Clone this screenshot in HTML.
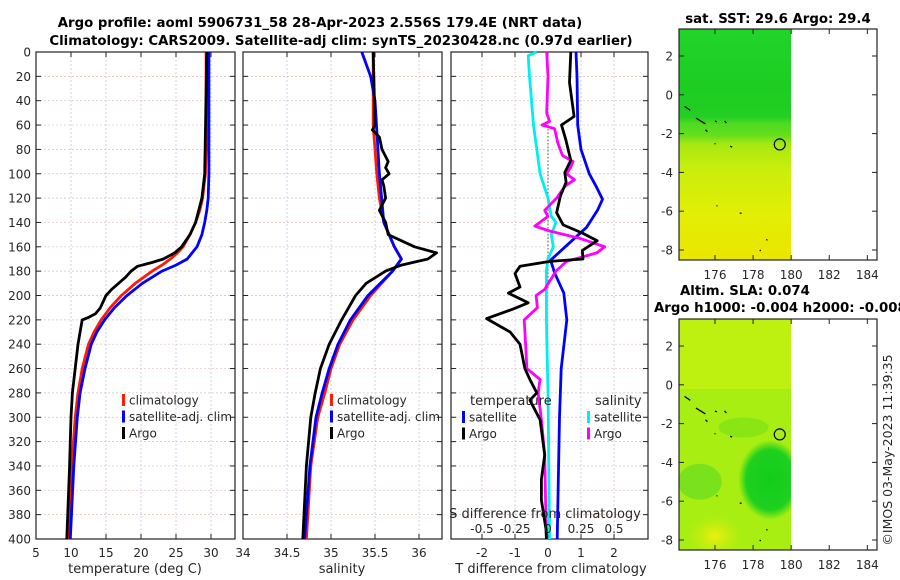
<!DOCTYPE html>
<html><head><meta charset="utf-8"><style>
body{margin:0;background:#fff;}
svg{display:block;font-family:"DejaVu Sans","Liberation Sans",sans-serif;}
</style></head><body>
<svg id="c" width="900" height="580" viewBox="0 0 900 580">
<defs>
<linearGradient id="sst" x1="0" y1="0" x2="0" y2="1">
<stop offset="0" stop-color="#22d42a"/><stop offset="0.25" stop-color="#1ccd22"/><stop offset="0.38" stop-color="#22cf22"/><stop offset="0.41" stop-color="#4fda22"/><stop offset="0.46" stop-color="#66de1c"/><stop offset="0.5" stop-color="#a8e812"/><stop offset="0.6" stop-color="#c8ee0c"/><stop offset="0.8" stop-color="#e2ee06"/><stop offset="1" stop-color="#eae600"/>
</linearGradient>
<radialGradient id="sla1" cx="0.5" cy="0.5" r="0.5"><stop offset="0" stop-color="#12cc1a"/><stop offset="0.75" stop-color="#1fd01f"/><stop offset="1" stop-color="#1fd01f" stop-opacity="0"/></radialGradient>
<radialGradient id="sla2" cx="0.5" cy="0.5" r="0.5"><stop offset="0" stop-color="#f0ee10"/><stop offset="1" stop-color="#c8f010" stop-opacity="0"/></radialGradient>
<clipPath id="m2"><rect x="679" y="319" width="112" height="231"/></clipPath>
</defs>
<g id="titles" font-weight="bold" font-size="13.3" text-anchor="middle" fill="#000">
<text x="320" y="27">Argo profile: aoml 5906731_58 28-Apr-2023 2.556S 179.4E (NRT data)</text>
<text x="341" y="45">Climatology: CARS2009. Satellite-adj clim: synTS_20230428.nc (0.97d earlier)</text>
<text x="778" y="23">sat. SST: 29.6 Argo: 29.4</text>
<text x="680" y="295" text-anchor="start">Altim. SLA: 0.074</text>
<text x="654" y="312" text-anchor="start">Argo h1000: -0.004 h2000: -0.008</text>
</g>
<g id="plots"></g>
</svg>
<script>
// ---- data ----
const depthTicks=[0,20,40,60,80,100,120,140,160,180,200,220,240,260,280,300,320,340,360,380,400];
const tTicks=[5,10,15,20,25,30];
const sTicks=[34,34.5,35,35.5,36];
const dTTicks=[-2,-1,0,1,2];
const dSTickLabels=["-0.5","-0.25","0","0.25","0.5"];
const dSTicks=[-0.5,-0.25,0,0.25,0.5];

const climTDepth=[0,80,100,110,120,130,140,150,160,165,170,175,180,190,200,210,220,230,240,260,280,300,340,400];
const climT=[29.3,29.3,29.2,29.0,28.8,28.4,27.8,27.0,26.0,25.2,24.2,23.0,21.6,19.2,17.2,15.6,14.3,13.3,12.5,11.6,11.0,10.6,10.1,9.6];
const satTDepth=[0,100,120,130,140,150,160,170,175,180,190,200,210,220,230,240,260,280,300,340,400];
const satT=[29.7,29.7,29.6,29.4,29.1,28.7,28.0,26.6,25.0,23.0,20.2,18.0,16.2,14.8,13.7,12.9,12.0,11.3,10.9,10.4,9.9];
const argoTDepth=[0,100,120,140,150,160,165,170,173,176,180,185,190,195,200,205,210,215,218,220,230,240,260,280,300,340,400];
const argoT=[29.4,29.1,28.7,27.8,27.0,25.8,24.8,23.2,21.5,19.5,18.6,17.8,16.8,15.8,15.0,14.6,14.2,13.5,12.5,11.6,11.3,11.0,10.6,10.2,10.0,9.8,9.4];

const climSDepth=[0,60,100,120,140,160,170,180,200,220,240,260,280,300,340,400];
const climS=[35.48,35.48,35.52,35.55,35.6,35.72,35.8,35.7,35.45,35.25,35.1,35.0,34.93,34.85,34.77,34.72];
const satSDepth=[0,20,40,100,140,160,170,180,200,220,240,260,280,300,340,400];
const satS=[35.35,35.45,35.5,35.55,35.6,35.72,35.8,35.7,35.42,35.22,35.08,34.98,34.9,34.83,34.76,34.7];
const argoSDepth=[0,60,64,70,80,90,95,100,105,110,120,130,140,150,160,165,170,175,180,190,200,220,240,260,280,300,340,400];
const argoS=[35.48,35.5,35.47,35.55,35.58,35.65,35.62,35.66,35.58,35.6,35.62,35.55,35.62,35.65,35.95,36.2,36.1,35.8,35.62,35.4,35.28,35.12,34.98,34.88,34.82,34.77,34.72,34.68];

const satdTDepth=[0,20,60,80,100,110,121,130,144,160,171,182,198,220,260,300,400];
const satdT=[0.85,0.88,0.9,1.0,1.25,1.45,1.65,1.5,1.17,0.52,0.08,0.21,0.48,0.57,0.4,0.35,0.28];
const argodTDepth=[0,25,53,60,72,89,99,107,118,132,142,149,155,163,170,172,176,182,193,198,206,211,219,230,240,260,269,280,286,302,331,351,368,392,400];
const argodT=[0.69,0.65,0.79,0.41,0.54,0.69,0.51,0.55,0.38,0.26,0.46,1.06,1.49,1.04,1.06,0.06,-0.85,-1.0,-0.85,-1.2,-0.6,-1.05,-1.86,-1.15,-0.85,-0.7,-0.55,-0.34,-0.55,-0.24,-0.1,-0.2,-0.2,-0.06,-0.05];
const satdSDepth=[0,3,20,60,100,120,135,140,150,160,170,180,200,220,280,400];
const satdS=[-0.085,-0.15,-0.14,-0.11,-0.06,0,0.025,0.06,0.025,0.04,0,-0.012,-0.012,-0.012,0,0.012];
const argodSDepth=[0,20,50,57,60,63,75,85,90,95,100,105,110,120,130,135,143,147,153,160,165,172,180,195,200,210,220,240,260,269,280,302,331,370,400];
const argodS=[-0.01,0,-0.01,0.012,-0.045,0.05,0.075,0.11,0.19,0.17,0.14,0.2,0.13,0.065,-0.025,0,-0.1,0.012,0.24,0.43,0.37,0.14,0.06,-0.025,-0.09,-0.08,-0.18,-0.17,-0.16,-0.06,-0.075,-0.05,-0.025,-0.018,-0.01];

const lonTicks=[176,178,180,182,184];
const latTicks=[2,0,-2,-4,-6,-8];
const argoLon=179.4, argoLat=-2.556;

// ---- helpers ----
const NS="http://www.w3.org/2000/svg";
const root=document.getElementById('plots');
function mk(tag,at,parent){const e=document.createElementNS(NS,tag);for(const k in at)e.setAttribute(k,at[k]);(parent||root).appendChild(e);return e;}
const Y0=52,Y1=539;
const yD=d=>Y0+d*(Y1-Y0)/400;
const xT=t=>36+(t-5)*7;
const xS=s=>243+(s-34)*88;
const xdT=v=>548+v*33;
const xdS=v=>548+v*4*33;

function frame(x0,x1,name,xticks,xf){
  const g=mk('g',{});
  
  
  xticks.forEach(t=>{const x=xf(t);if(x>x0+1&&x<x1-1)mk('line',{x1:x,x2:x,y1:Y0,y2:Y1,stroke:'#b8c0e0','stroke-width':0.7,'stroke-dasharray':'2,2'},g);});
  depthTicks.forEach(d=>{if(d>0&&d<400)mk('line',{x1:x0,x2:x1,y1:yD(d),y2:yD(d),stroke:'#e0c0b8','stroke-width':0.7,'stroke-dasharray':'2,2'},g);});
  depthTicks.forEach(d=>{const y=yD(d);mk('line',{x1:x0,x2:x0+5,y1:y,y2:y,stroke:'#222'},g);mk('line',{x1:x1-5,x2:x1,y1:y,y2:y,stroke:'#222'},g);});
  xticks.forEach(t=>{const x=xf(t);mk('line',{x1:x,x2:x,y1:Y1,y2:Y1-5,stroke:'#222'},g);mk('line',{x1:x,x2:x,y1:Y0,y2:Y0+5,stroke:'#222'},g);});
  mk('rect',{x:x0,y:Y0,width:x1-x0,height:Y1-Y0,fill:'none',stroke:'#222','stroke-width':1.2},g);
  return g;
}
function line(xs,ds,xf,color,name,w){
  const p=xs.map((v,i)=>xf(v).toFixed(1)+','+yD(ds[i]).toFixed(1)).join(' ');
  const e=mk('polyline',{points:p,fill:'none',stroke:color,'stroke-width':w||2.8,'stroke-linejoin':'round'});
  
  
}
function txt(x,y,s,opt,parent){const e=mk('text',Object.assign({x:x,y:y,'font-size':12,fill:'#262626'},opt||{}),parent);e.textContent=s;return e;}
function legend(x,y,items,name){
  const g=mk('g',{});
  
  
  items.forEach((it,i)=>{const yy=y+i*16.5;mk('rect',{x:x,y:yy-6,width:3,height:12,fill:it[1]},g);txt(x+7,yy+4.5,it[0],{},g);});
}

// Panel 1
frame(36,235,'temperature-axes',tTicks,xT);
depthTicks.forEach(d=>{const e=txt(31,yD(d)+4.5,String(d),{'text-anchor':'end'});});
tTicks.forEach(t=>{const e=txt(xT(t),557,String(t),{'text-anchor':'middle'});});
line(climT,climTDepth,xT,'#ff1a00','climatology-temperature-line');
line(satT,satTDepth,xT,'#0000ff','satellite-temperature-line');
line(argoT,argoTDepth,xT,'#000','argo-temperature-line');
{const e=txt(135,573,'temperature (deg C)',{'text-anchor':'middle','font-size':13});}
legend(122,400,[['climatology','#ff1a00'],['satellite-adj. clim','#0000ff'],['Argo','#000']],'temperature-legend');

// Panel 2
frame(243,442,'salinity-axes',sTicks.slice(1),xS);
sTicks.forEach(t=>{const e=txt(xS(t),557,String(t),{'text-anchor':'middle'});});
line(climS,climSDepth,xS,'#ff1a00','climatology-salinity-line');
line(satS,satSDepth,xS,'#0000ff','satellite-salinity-line');
line(argoS,argoSDepth,xS,'#000','argo-salinity-line');
{const e=txt(342,573,'salinity',{'text-anchor':'middle','font-size':13});}
legend(330,400,[['climatology','#ff1a00'],['satellite-adj. clim','#0000ff'],['Argo','#000']],'salinity-legend');

// Panel 3
frame(451,648,'difference-axes',dTTicks,xdT);
{const z=mk('line',{x1:548,x2:548,y1:Y0,y2:yD(195),stroke:'#555','stroke-width':1,'stroke-dasharray':'1.5,2'});}
line(satdT,satdTDepth,xdT,'#0000ff','satellite-t-diff-line');
line(satdS,satdSDepth,xdS,'#00eeee','satellite-s-diff-line');
line(argodS,argodSDepth,xdS,'#ff00ff','argo-s-diff-line');
line(argodT,argodTDepth,xdT,'#000','argo-t-diff-line');
dTTicks.forEach(t=>{const e=txt(xdT(t),557,String(t),{'text-anchor':'middle'});});
dSTicks.forEach((t,i)=>{const e=txt(xdS(t),533,dSTickLabels[i],{'text-anchor':'middle'});});
{const e=txt(545,518,'S difference from climatology',{'text-anchor':'middle','font-size':13});}
{const e=txt(551,573,'T difference from climatology',{'text-anchor':'middle','font-size':13});}
{const e=txt(470,405,'temperature',{'font-size':13});}
{const e=txt(595,405,'salinity',{'font-size':13});}
legend(462,417,[['satellite','#0000ff'],['Argo','#000']],'t-diff-legend');
legend(587,417,[['satellite','#00eeee'],['Argo','#ff00ff']],'s-diff-legend');

// Maps
const xLon=l=>715+(l-176)*19.04;
function map(top,name,bg){
  const yLat=l=>top+27+(2-l)*19.4;
  const g=mk('g',{});
  
  
  bg(g,yLat);
  const coast=[[174.4,-0.6,174.7,-0.8],[175.0,-1.2,175.5,-1.5],[176.0,-1.35,176.1,-1.4],[176.5,-1.35,176.6,-1.45],[175.5,-1.8,175.6,-1.9],[176.0,-2.5,176.0,-2.55],[176.8,-2.65,176.9,-2.7],[176.1,-5.7,176.1,-5.75],[177.3,-6.1,177.4,-6.1],[178.7,-7.45,178.75,-7.5],[178.4,-8.0,178.35,-8.05]];
  coast.forEach(c=>mk('line',{x1:xLon(c[0]),y1:yLat(c[1]),x2:xLon(c[2]),y2:yLat(c[3]),stroke:'#000','stroke-width':1.3},g));
  const ci=mk('circle',{cx:xLon(argoLon),cy:yLat(argoLat),r:5.5,fill:'none',stroke:'#000','stroke-width':1.2},g);
  
  
  mk('rect',{x:679,y:top,width:198,height:231,fill:'none',stroke:'#222','stroke-width':1.2},g);
  lonTicks.forEach(l=>{const x=xLon(l);mk('line',{x1:x,x2:x,y1:top+231,y2:top+226,stroke:'#222'},g);mk('line',{x1:x,x2:x,y1:top,y2:top+5,stroke:'#222'},g);
    const e=txt(x,top+250,String(l),{'text-anchor':'middle'},g);});
  latTicks.forEach(l=>{const y=yLat(l);mk('line',{x1:679,x2:684,y1:y,y2:y,stroke:'#222'},g);mk('line',{x1:872,x2:877,y1:y,y2:y,stroke:'#222'},g);
    const e=txt(673,y+4.5,String(l),{'text-anchor':'end'},g);});
}
map(29,'sst-map',(g,yL)=>{
  mk('rect',{x:679,y:29,width:112,height:231,fill:'url(#sst)'},g);
});
map(319,'sla-map',(g,yL)=>{
  const cg=mk('g',{'clip-path':'url(#m2)'},g);
  mk('rect',{x:679,y:319,width:112,height:231,fill:'#a8ee12'},cg);
  mk('rect',{x:679,y:319,width:112,height:70,fill:'#bef010'},cg);
  mk('ellipse',{cx:xLon(178.9),cy:yL(-4.9),rx:32,ry:40,fill:'url(#sla1)'},cg);
  mk('ellipse',{cx:xLon(175.2),cy:yL(-5),rx:22,ry:18,fill:'#66dd22',opacity:0.7},cg);
  mk('ellipse',{cx:xLon(176),cy:yL(-7.8),rx:28,ry:22,fill:'url(#sla2)'},cg);
  mk('ellipse',{cx:xLon(177.5),cy:yL(-2.2),rx:25,ry:10,fill:'#77e018',opacity:0.6},cg);
});
{const e=txt(892,450,'©IMOS 03-May-2023 11:39:35',{'text-anchor':'middle','transform':'rotate(-90 892 450)','font-size':12.5});}
</script>
</body></html>
